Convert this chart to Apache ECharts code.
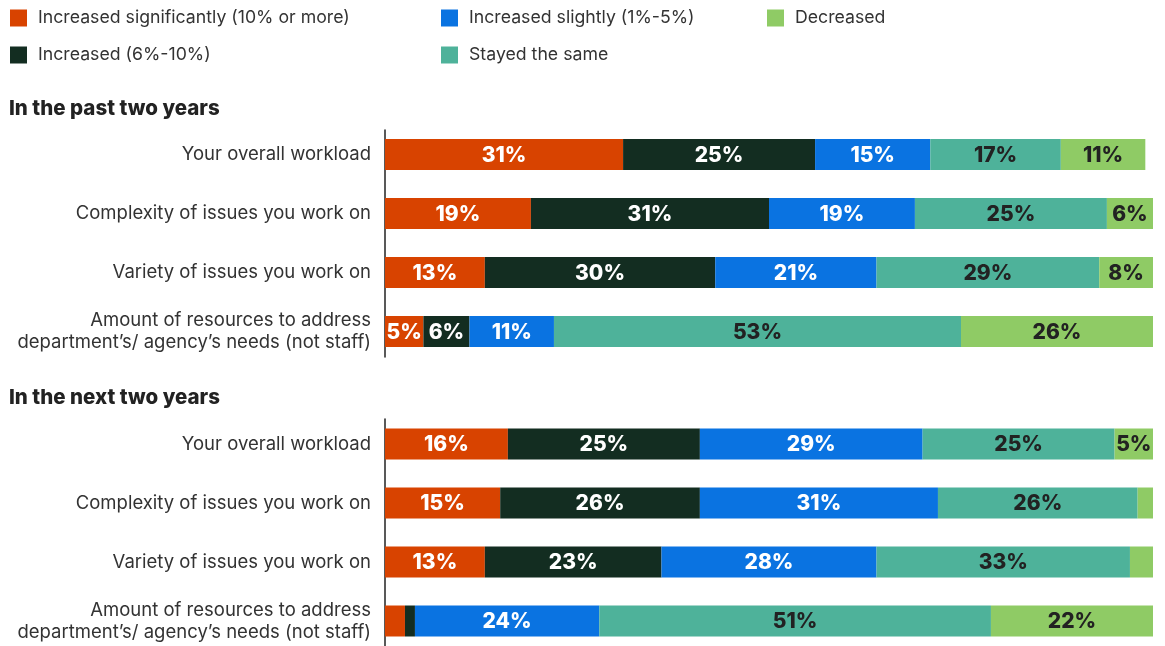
<!DOCTYPE html>
<html>
<head>
<meta charset="utf-8">
<script src="https://cdn.jsdelivr.net/npm/echarts@6/dist/echarts.min.js"></script>
<style>
  html, body { margin: 0; padding: 0; background: #ffffff; }
  #chart { width: 1165px; height: 646px; }
</style>
</head>
<body>
<div id="chart"></div>
<script>
// Survey answers: how workload aspects changed / will change (percent of respondents)
const categories = [
  "Your overall workload",
  "Complexity of issues you work on",
  "Variety of issues you work on",
  "Amount of resources to address\ndepartment\u2019s/ agency\u2019s needs (not staff)"
];

const seriesNames = [
  "Increased significantly (10% or more)",
  "Increased (6%-10%)",
  "Increased slightly (1%-5%)",
  "Stayed the same",
  "Decreased"
];

// In the past two years
const pastSignificant = [31, 19, 13, 5];
const pastIncreased   = [25, 31, 30, 6];
const pastSlight      = [15, 19, 21, 11];
const pastSame        = [17, 25, 29, 53];
const pastDecreased   = [11, 6, 8, 26];

// In the next two years
const nextSignificant = [16, 15, 13, 2.6];
const nextIncreased   = [25, 26, 23, 1.3];
const nextSlight      = [29, 31, 28, 24];
const nextSame        = [25, 26, 33, 51];
const nextDecreased   = [5, 2, 3, 22];

const colors = ["#D84300", "#132D21", "#0A73E1", "#4EB29A", "#8FCB65"];
const labelColors = ["#ffffff", "#ffffff", "#ffffff", "#222222", "#222222"];
const FONT = "Inter, 'Noto Sans', sans-serif";

const chart = echarts.init(document.getElementById("chart"));

function makeSeries(values, panel) {
  return values.map((data, i) => ({
    name: seriesNames[i],
    type: "bar",
    stack: "panel" + panel,
    xAxisIndex: panel,
    yAxisIndex: panel,
    barWidth: 31,
    data: data,
    itemStyle: { color: colors[i] },
    label: {
      show: true,
      position: "inside",
      offset: [0, 1],
      color: labelColors[i],
      fontFamily: FONT,
      fontSize: 21,
      fontWeight: 800,
      // thin slivers carry no label
      formatter: p => (p.value >= 4 ? Math.round(p.value) + "%" : "")
    },
    emphasis: { disabled: true }
  }));
}

// Bar axes: category labels only
function labelAxis(gridIndex) {
  return {
    type: "category",
    gridIndex: gridIndex,
    data: categories,
    inverse: true,
    axisLine: { show: false },
    axisTick: { show: false },
    axisLabel: {
      color: "#333333",
      fontFamily: FONT,
      fontSize: 18.5,
      lineHeight: 22,
      margin: 14,
      align: "right"
    }
  };
}

// Separate axes that draw only the vertical baseline of each panel
function lineAxis(gridIndex) {
  return {
    type: "category",
    gridIndex: gridIndex,
    data: categories,
    axisLine: { show: true, lineStyle: { color: "#222222", width: 1.5 } },
    axisTick: { show: false },
    axisLabel: { show: false }
  };
}

function xAxisFor(gridIndex) {
  return { type: "value", gridIndex: gridIndex, min: 0, max: 100, show: false };
}

function legendColumn(left, names) {
  return {
    orient: "vertical",
    left: left,
    top: 9,
    padding: 0,
    itemGap: 19,
    itemWidth: 17,
    itemHeight: 17,
    icon: "rect",
    selectedMode: false,
    data: names,
    textStyle: {
      color: "#333333",
      fontFamily: FONT,
      fontSize: 17.7,
      padding: [0, 0, 0, 6]
    }
  };
}

const titleStyle = { fontFamily: FONT, fontSize: 20.5, fontWeight: 800, color: "#222222" };

chart.setOption({
  animation: false,
  title: [
    { text: "In the past two years", left: 9, top: 98, padding: 0, textStyle: titleStyle },
    { text: "In the next two years", left: 9, top: 387, padding: 0, textStyle: titleStyle }
  ],
  legend: [
    legendColumn(10, [seriesNames[0], seriesNames[1]]),
    legendColumn(441, [seriesNames[2], seriesNames[3]]),
    legendColumn(767, [seriesNames[4]])
  ],
  grid: [
    { left: 385, right: 12, top: 125, height: 236, outerBoundsMode: "none" },
    { left: 385, right: 12, top: 414.5, height: 236, outerBoundsMode: "none" },
    { left: 385, right: 12, top: 130, height: 227, outerBoundsMode: "none" },
    { left: 385, right: 12, top: 419, height: 227, outerBoundsMode: "none" }
  ],
  xAxis: [xAxisFor(0), xAxisFor(1), xAxisFor(2), xAxisFor(3)],
  yAxis: [labelAxis(0), labelAxis(1), lineAxis(2), lineAxis(3)],
  series: [
    ...makeSeries([pastSignificant, pastIncreased, pastSlight, pastSame, pastDecreased], 0),
    ...makeSeries([nextSignificant, nextIncreased, nextSlight, nextSame, nextDecreased], 1)
  ]
});
</script>
</body>
</html>
